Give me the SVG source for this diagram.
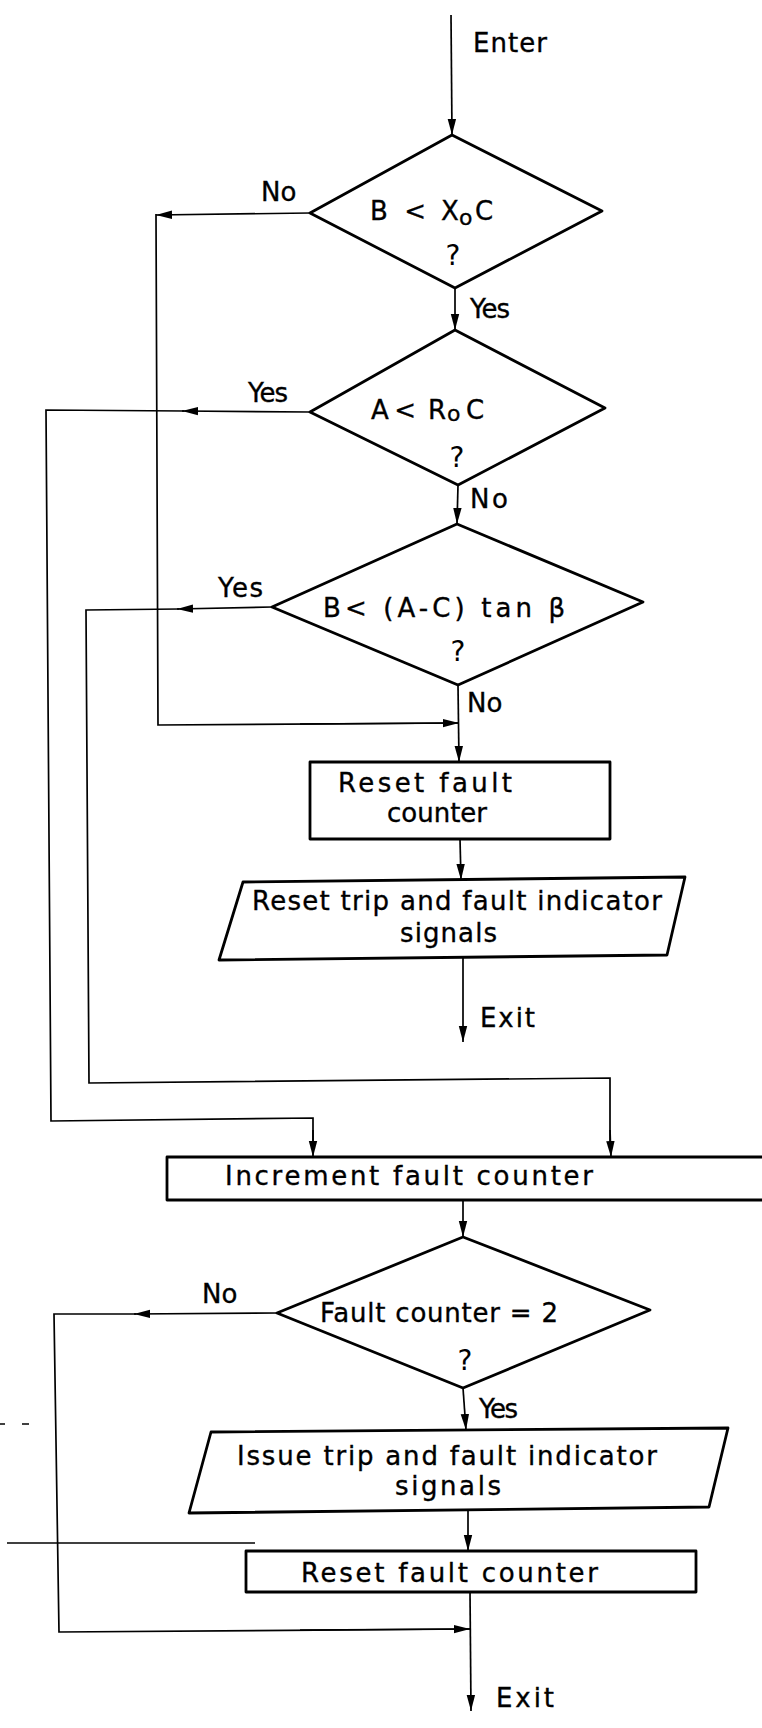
<svg xmlns="http://www.w3.org/2000/svg" width="762" height="1728" viewBox="0 0 762 1728">
<style>
.shape{fill:none;stroke:#000;stroke-width:2.8;stroke-linejoin:round}
.con{fill:none;stroke:#000;stroke-width:1.7}
.t{font-family:"DejaVu Sans","Liberation Sans",sans-serif;font-size:26px;fill:#000;stroke:#000;stroke-width:0.35}
.sub{font-size:22px}
.q{font-family:"DejaVu Sans","Liberation Sans",sans-serif;font-size:28px;fill:#000;text-anchor:middle}
.art{fill:none;stroke:#000;stroke-width:1.5}
</style>
<defs>
<marker id="ah" markerUnits="userSpaceOnUse" markerWidth="18" markerHeight="10" refX="16" refY="5" orient="auto">
<path d="M0,0.8 L16,5 L0,9.2 z" fill="#000"/>
</marker>
</defs>
<rect width="762" height="1728" fill="#fff"/>

<g id="connectors">
<line class="con" x1="451" y1="15" x2="452" y2="135" marker-end="url(#ah)"/>
<line class="con" x1="455" y1="288" x2="455" y2="330" marker-end="url(#ah)"/>
<line class="con" x1="310" y1="213" x2="156" y2="215" marker-end="url(#ah)"/>
<polyline class="con" points="156,214 158,725 459,723"/>
<line class="con" x1="300" y1="724" x2="459" y2="723" marker-end="url(#ah)"/>
<line class="con" x1="458" y1="485" x2="457" y2="524" marker-end="url(#ah)"/>
<line class="con" x1="310" y1="412" x2="182" y2="411" marker-end="url(#ah)"/>
<polyline class="con" points="184,411 46,410 51,1121 313,1118 313,1145"/>
<line class="con" x1="313" y1="1130" x2="313" y2="1157" marker-end="url(#ah)"/>
<line class="con" x1="458" y1="685" x2="459" y2="762" marker-end="url(#ah)"/>
<line class="con" x1="272" y1="607" x2="177" y2="609" marker-end="url(#ah)"/>
<polyline class="con" points="179,609 86,610 89,1083 610,1078 610,1145"/>
<line class="con" x1="610" y1="1130" x2="611" y2="1157" marker-end="url(#ah)"/>
<line class="con" x1="460" y1="839" x2="461" y2="880" marker-end="url(#ah)"/>
<line class="con" x1="463" y1="957" x2="463" y2="1042" marker-end="url(#ah)"/>
<line class="con" x1="463" y1="1200" x2="463" y2="1237" marker-end="url(#ah)"/>
<line class="con" x1="463" y1="1388" x2="466" y2="1430" marker-end="url(#ah)"/>
<line class="con" x1="468" y1="1510" x2="468" y2="1551" marker-end="url(#ah)"/>
<line class="con" x1="470" y1="1592" x2="471" y2="1711" marker-end="url(#ah)"/>
<line class="con" x1="277" y1="1313" x2="134" y2="1314" marker-end="url(#ah)"/>
<polyline class="con" points="136,1314 54,1314 59,1632 470,1629"/>
<line class="con" x1="300" y1="1630" x2="470" y2="1629" marker-end="url(#ah)"/>
</g>

<g id="labels">
<text class="t" x="473" y="52" textLength="74" lengthAdjust="spacing">Enter</text>
<text class="t" x="261" y="201">No</text>
<text class="t" x="470" y="318" textLength="40" lengthAdjust="spacing">Yes</text>
<text class="t" x="248" y="402" textLength="40" lengthAdjust="spacing">Yes</text>
<text class="t" x="470" y="508" textLength="38" lengthAdjust="spacing">No</text>
<text class="t" x="218" y="597" textLength="45" lengthAdjust="spacing">Yes</text>
<text class="t" x="467" y="712">No</text>
<text class="t" x="480" y="1027" textLength="55" lengthAdjust="spacing">Exit</text>
<text class="t" x="202" y="1303">No</text>
<text class="t" x="479" y="1418" textLength="39" lengthAdjust="spacing">Yes</text>
<text class="t" x="496" y="1707" textLength="58" lengthAdjust="spacing">Exit</text>
</g>

<g id="d1">
<polygon class="shape" points="452,135 602,211 455,288 310,213"/>
<text class="t" y="220"><tspan x="370">B</tspan><tspan x="396"> &lt; </tspan><tspan x="441">X</tspan><tspan class="sub" x="459" dy="5">o</tspan><tspan x="475" dy="-5">C</tspan></text>
<text class="q" x="453" y="265">?</text>
</g>

<g id="d2">
<polygon class="shape" points="455,330 605,408 458,485 310,412"/>
<text class="t" y="419"><tspan x="371">A</tspan><tspan x="386"> &lt;</tspan><tspan x="428">R</tspan><tspan class="sub" x="447" dy="2">o</tspan><tspan x="466" dy="-2">C</tspan></text>
<text class="q" x="457" y="467">?</text>
</g>

<g id="d3">
<polygon class="shape" points="457,524 643,602 458,685 272,607"/>
<text class="t" x="323" y="617" textLength="242" lengthAdjust="spacing">B&lt; (A-C)  tan β</text>
<text class="q" x="458" y="661">?</text>
</g>

<g id="box1">
<rect class="shape" x="310" y="762" width="300" height="77"/>
<text class="t" x="338" y="792" textLength="174" lengthAdjust="spacing">Reset  fault</text>
<text class="t" x="387" y="822" textLength="100" lengthAdjust="spacing">counter</text>
</g>

<g id="para1">
<polygon class="shape" points="243,882 685,877 667,955 219,960"/>
<text class="t" x="252" y="910" textLength="410" lengthAdjust="spacing">Reset trip and fault indicator</text>
<text class="t" x="400" y="942" textLength="97" lengthAdjust="spacing">signals</text>
</g>

<g id="increment">
<rect class="shape" x="167" y="1157" width="620" height="43"/>
<text class="t" x="225" y="1185" textLength="368" lengthAdjust="spacing">Increment fault  counter</text>
</g>

<g id="d4">
<polygon class="shape" points="463,1237 650,1310 463,1388 277,1313"/>
<text class="t" x="320" y="1322" textLength="238" lengthAdjust="spacing">Fault counter = 2</text>
<text class="q" x="465" y="1370">?</text>
</g>

<g id="para2">
<polygon class="shape" points="211,1432 728,1428 709,1507 189,1513"/>
<text class="t" x="237" y="1465" textLength="420" lengthAdjust="spacing">Issue trip and fault indicator</text>
<text class="t" x="395" y="1495" textLength="106" lengthAdjust="spacing">signals</text>
</g>

<g id="box2">
<rect class="shape" x="246" y="1551" width="450" height="41"/>
<text class="t" x="301" y="1582" textLength="297" lengthAdjust="spacing">Reset fault counter</text>
</g>

<g id="artifacts">
<line class="art" x1="7" y1="1543" x2="255" y2="1543"/>
<line class="art" x1="0" y1="1424" x2="5" y2="1424"/>
<line class="art" x1="22" y1="1424" x2="29" y2="1424"/>
</g>
</svg>
